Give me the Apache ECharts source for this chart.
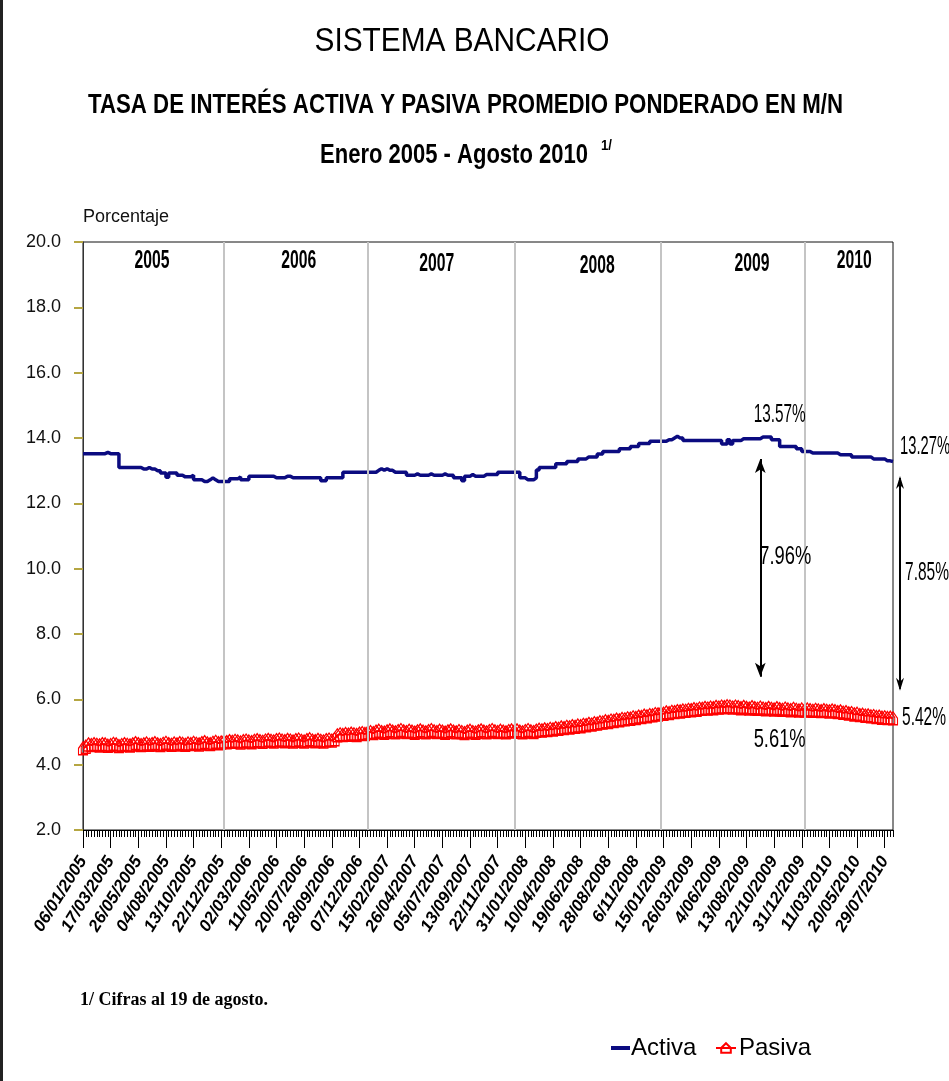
<!DOCTYPE html>
<html>
<head>
<meta charset="utf-8">
<script src="https://cdn.jsdelivr.net/npm/echarts@6/dist/echarts.min.js"></script>
<style>
html,body{margin:0;padding:0;background:#fff;}
#chart{width:949px;height:1081px;}
</style>
</head>
<body>
<div id="chart"></div>
<script>
// ---------- DATA ----------
const startDate = [2005, 0, 6]; // first weekly observation 06/01/2005
const tickLabels = ['06/01/2005','17/03/2005','26/05/2005','04/08/2005','13/10/2005','22/12/2005',
  '02/03/2006','11/05/2006','20/07/2006','28/09/2006','07/12/2006','15/02/2007','26/04/2007',
  '05/07/2007','13/09/2007','22/11/2007','31/01/2008','10/04/2008','19/06/2008','28/08/2008',
  '6/11/2008','15/01/2009','26/03/2009','4/06/2009','13/08/2009','22/10/2009','31/12/2009',
  '11/03/2010','20/05/2010','29/07/2010'];

const activa2005 = [13.52,13.52,13.52,13.52,13.52,13.52,13.52,13.52,13.56,13.52,13.52,13.52,13.52,
  13.10,13.10,13.10,13.10,13.10,13.10,13.10,13.10,
  13.05,13.05,13.10,13.05,13.05,13.00,13.00,12.93,12.93,12.80,12.93,12.93,12.93,12.86,12.86,
  12.81,12.81,12.81,12.86,12.72,12.72,12.72,12.67,12.67,12.72,12.78,12.72,12.67,12.67,12.67,12.67];
const activa2006 = [12.67,12.75,12.75,12.75,12.81,12.72,12.72,12.72,
  12.83,12.83,12.83,12.83,12.83,12.83,12.83,12.83,12.83,12.78,12.78,12.78,12.78,12.83,12.83,
  12.78,12.78,12.78,12.78,12.78,12.78,12.78,12.78,12.78,12.78,12.78,12.69,12.69,
  12.78,12.78,12.78,12.78,12.78,12.78,12.95,12.95,12.95,12.95,12.95,12.95,12.95,12.95,12.95,12.95];
const activa2007 = [12.95,12.95,13.01,13.06,13.01,13.06,13.01,13.01,12.95,12.95,12.95,12.95,12.95,
  12.86,12.86,12.86,12.90,12.86,12.86,12.86,12.86,12.90,12.86,12.86,12.86,12.86,12.90,12.86,12.86,12.86,
  12.78,12.78,12.78,12.69,12.83,12.83,12.88,12.83,12.83,12.83,12.83,
  12.88,12.88,12.88,12.88,12.88,12.95,12.95,12.95,12.95,12.95,12.95];
const activa2008 = [12.95,12.95,12.78,12.78,12.72,12.72,12.72,12.78,13.02,
  13.10,13.10,13.10,13.10,13.10,13.10,13.21,13.21,13.21,13.21,13.28,13.28,13.28,13.28,
  13.36,13.36,13.36,13.42,13.42,13.42,13.42,13.51,13.51,13.59,13.59,13.59,13.59,13.59,13.59,
  13.67,13.67,13.67,13.67,13.74,13.74,13.74,13.83,13.83,13.83,13.83,13.90,13.90,13.90];
const activa2009 = [13.90,13.90,13.90,13.95,13.95,14.00,14.05,14.00,14.00,
  13.92,13.92,13.92,13.92,13.92,13.92,13.92,13.92,13.92,13.92,13.92,13.92,13.92,13.92,
  13.82,13.82,13.95,13.82,13.92,13.92,13.92,13.98,13.98,13.98,13.98,13.98,13.98,13.98,
  14.03,14.03,14.03,14.03,13.95,13.95,13.95,13.74,13.74,13.74,13.74,13.74,13.74,13.67,13.67,13.59];
const activa2010 = [13.59,13.59,13.54,13.54,13.54,13.54,13.54,13.54,13.54,13.54,13.54,13.54,
  13.49,13.49,13.49,13.49,13.49,13.42,13.42,13.42,13.42,13.42,13.42,13.42,
  13.36,13.36,13.36,13.36,13.36,13.30,13.30,13.28,13.27];

const pasiva2005 = [4.50,4.55,4.62,4.60,4.63,4.61,4.59,4.63,4.62,4.58,
  4.60,4.64,4.62,4.57,4.60,4.63,4.61,4.59,4.62,4.66,
  4.63,4.60,4.62,4.65,4.61,4.63,4.66,4.62,4.60,4.64,
  4.67,4.63,4.61,4.65,4.62,4.66,4.64,4.61,4.65,4.63,
  4.67,4.64,4.62,4.66,4.69,4.65,4.63,4.67,4.70,4.66,4.68,4.71];
const pasiva2006 = [4.69,4.72,4.70,4.73,4.71,4.68,4.72,4.74,4.71,4.69,
  4.73,4.75,4.72,4.70,4.74,4.76,4.73,4.71,4.75,4.77,
  4.74,4.72,4.76,4.74,4.71,4.75,4.77,4.73,4.71,4.75,
  4.78,4.74,4.72,4.76,4.73,4.71,4.75,4.77,4.74,4.78,
  4.90,4.93,4.91,4.94,4.92,4.95,4.93,4.91,4.95,4.97,4.94,4.98];
const pasiva2007 = [5.00,4.97,5.01,5.04,5.00,4.98,5.02,5.05,5.01,4.99,
  5.03,5.06,5.02,5.00,5.04,5.01,4.98,5.02,5.05,5.01,
  4.99,5.03,5.06,5.02,5.00,5.04,5.01,4.98,5.02,5.05,
  5.01,4.99,5.03,5.00,4.97,5.01,5.04,5.00,4.98,5.02,
  5.05,5.01,4.99,5.03,5.06,5.02,5.00,5.04,5.01,4.99,5.03,5.05];
const pasiva2008 = [5.02,5.05,5.01,4.99,5.03,5.06,5.02,5.00,5.04,5.07,
  5.05,5.08,5.06,5.10,5.08,5.12,5.10,5.14,5.12,5.16,
  5.14,5.18,5.16,5.20,5.18,5.22,5.21,5.25,5.23,5.27,
  5.26,5.30,5.29,5.33,5.31,5.35,5.34,5.38,5.36,5.40,
  5.39,5.42,5.41,5.45,5.43,5.47,5.46,5.50,5.48,5.52,5.51,5.55];
const pasiva2009 = [5.54,5.57,5.56,5.60,5.58,5.62,5.61,5.64,5.63,5.66,
  5.65,5.68,5.67,5.70,5.68,5.72,5.71,5.74,5.72,5.75,
  5.73,5.77,5.75,5.78,5.76,5.79,5.78,5.75,5.78,5.76,
  5.73,5.77,5.74,5.72,5.76,5.73,5.71,5.75,5.72,5.70,
  5.74,5.71,5.69,5.73,5.70,5.68,5.72,5.69,5.67,5.71,5.68,5.66,5.69];
const pasiva2010 = [5.66,5.69,5.67,5.65,5.68,5.66,5.64,5.67,5.65,5.63,
  5.66,5.64,5.61,5.63,5.59,5.61,5.57,5.58,5.54,5.56,
  5.52,5.53,5.50,5.51,5.48,5.49,5.46,5.47,5.44,5.45,5.43,5.44,5.42];

const yearNames = ['2005','2006','2007','2008','2009','2010'];
const yearLabelIdx = [25, 78, 128, 186, 242, 279];
const yearLabelVal = [19.40, 19.40, 19.33, 19.25, 19.33, 19.40];
const yearLineIdx = [51, 103, 156, 209, 261];

// annotations inside the plot: [text, index, value]
const notes = [['13.57%', 252, 14.71], ['7.96%', 254, 10.36], ['5.61%', 252, 4.76]];
// annotations right of the last observation: [text, value]
const endNotes = [['13.27%', 13.73], ['7.85%', 9.87], ['5.42%', 5.42]];
const arrowMid = [245, 13.36, 6.69];   // index, top value, bottom value
const arrowEnd = [12.84, 6.26];        // top value, bottom value

// ---------- BUILD ----------
const activa = [].concat(activa2005, activa2006, activa2007, activa2008, activa2009, activa2010);
const pasiva = [].concat(pasiva2005, pasiva2006, pasiva2007, pasiva2008, pasiva2009, pasiva2010);
const categories = [];
for (let i = 0; i < activa.length; i++) {
  const d = new Date(startDate[0], startDate[1], startDate[2] + 7 * i);
  const dd = String(d.getDate()).padStart(2, '0'), mm = String(d.getMonth() + 1).padStart(2, '0');
  categories.push(dd + '/' + mm + '/' + d.getFullYear());
}
const last = activa.length - 1;

const SANS = "'Liberation Sans', Arial, sans-serif";
const SERIF = "'Liberation Serif','DejaVu Serif',serif";

const mctx = document.createElement('canvas').getContext('2d');
function fitScale(text, font, target) { mctx.font = font; return target / mctx.measureText(text).width; }

const chart = echarts.init(document.getElementById('chart'), null, {renderer: 'canvas'});

const option = {
  backgroundColor: '#fff',
  animation: false,
  grid: {left: 83, right: 56, top: 242, bottom: 251, show: true, borderColor: '#111', borderWidth: 1},
  xAxis: [{
    type: 'category', data: categories, boundaryGap: false,
    axisLine: {lineStyle: {color: '#000', width: 1}},
    axisTick: {interval: 0, length: 7, lineStyle: {color: '#000'}},
    axisLabel: {interval: 9, rotate: 58, fontFamily: SANS, fontSize: 17, fontWeight: 'bold', fontStyle: 'italic',
      color: '#000', margin: 28,
      formatter: (v, i) => tickLabels[Math.round(i / 10)] || ''},
    splitLine: {show: false}
  }, {
    type: 'category', data: categories, boundaryGap: false, position: 'bottom',
    axisLine: {show: false},
    axisTick: {interval: 9, length: 18, lineStyle: {color: '#000'}},
    axisLabel: {show: false}, splitLine: {show: false}
  }],
  yAxis: {
    type: 'value', min: 2, max: 20, interval: 2,
    name: 'Porcentaje', nameLocation: 'end', nameGap: 16,
    nameTextStyle: {align: 'left', fontFamily: SANS, fontSize: 18, color: '#111'},
    axisLine: {show: true, lineStyle: {color: '#333'}},
    axisTick: {show: true, length: 9, lineStyle: {color: '#b5a642', width: 2}},
    axisLabel: {formatter: v => v.toFixed(1), fontFamily: SANS, fontSize: 18, color: '#111', margin: 22},
    splitLine: {show: false}
  },
  legend: [{
    left: 606, top: 1031, itemWidth: 19, itemHeight: 4, icon: 'rect',
    textStyle: {fontFamily: SANS, fontSize: 24, color: '#000', padding: [0, 0, 0, -4]},
    data: ['Activa']
  }, {
    left: 710, top: 1031, itemWidth: 20, itemHeight: 12,
    textStyle: {fontFamily: SANS, fontSize: 24, color: '#000', padding: [0, 0, 0, -2]},
    data: ['Pasiva']
  }],
  series: [{
    name: 'Activa', type: 'line', data: activa, step: 'end', showSymbol: false, symbol: 'none',
    lineStyle: {color: '#0b0b80', width: 3.5}, itemStyle: {color: '#0b0b80'}, z: 3,
    markLine: {
      silent: true, symbol: ['arrow', 'arrow'], symbolSize: [8, 14],
      lineStyle: {color: '#000', width: 2, type: 'solid'}, label: {show: false},
      data: [[{coord: [arrowMid[0], arrowMid[1]]}, {coord: [arrowMid[0], arrowMid[2]]}]]
    }
  }, {
    name: 'Pasiva', type: 'line', data: pasiva, showSymbol: true, showAllSymbol: true,
    symbol: 'path://M5,0 L10,6 L10,12 L0,12 L0,6 Z', symbolSize: [9, 13],
    lineStyle: {color: '#ff0000', width: 2},
    itemStyle: {color: 'rgba(255,255,255,0)', borderColor: '#ff0000', borderWidth: 1.3}, z: 2,
    markLine: {
      silent: true, symbol: 'none', label: {show: false},
      lineStyle: {color: '#c4c4c4', width: 2, type: 'solid'},
      data: yearLineIdx.map(i => ({xAxis: i}))
    }
  }],
  graphic: [
    {type: 'rect', id: 'leftframe', shape: {x: 0, y: 0, width: 3, height: 1081}, style: {fill: '#222'}}
  ]
};
chart.setOption(option);

// ---------- TEXT & ARROWS placed from data coordinates ----------
const px = (i, v) => chart.convertToPixel({gridIndex: 0}, [i, v]);
const g = [];
function addText(id, text, x, y, font, target, align) {
  g.push({type: 'text', id: id, x: x, y: y, scaleX: fitScale(text, font, target), z: 50,
    style: {text: text, font: font, fill: '#000', align: align || 'center', verticalAlign: 'middle'}});
}
// titles
addText('t1', 'SISTEMA BANCARIO', 462, 42, '33px ' + SANS, 295);
addText('t2', 'TASA DE INTERÉS ACTIVA Y PASIVA PROMEDIO PONDERADO EN M/N', 465.5, 106, 'bold 27px ' + SANS, 755);
addText('t3', 'Enero 2005 - Agosto 2010', 454, 156, 'bold 27px ' + SANS, 268);
addText('t3s', '1/', 601, 146, 'bold 15px ' + SANS, 11, 'left');
addText('foot', '1/ Cifras al 19 de agosto.', 80, 1000, 'bold 18px ' + SERIF, 188, 'left');
// year labels
yearNames.forEach((t, k) => {
  const p = px(yearLabelIdx[k], yearLabelVal[k]);
  addText('y' + k, t, p[0], p[1], 'bold 25px ' + SANS, 35);
});
// value notes
notes.forEach((n, k) => {
  const p = px(n[1], n[2]);
  addText('n' + k, n[0], p[0], p[1], '26px ' + SANS, 52);
});
const endOffsets = [7, 12, 9];
endNotes.forEach((n, k) => {
  const p = px(last, n[1]);
  addText('e' + k, n[0], p[0] + endOffsets[k], p[1], '26px ' + SANS, n[0].length > 5 ? 50 : 44, 'left');
});
// double arrow right of the plot
const pTop = px(last, arrowEnd[0]);
const pBot = px(last, arrowEnd[1]);
const ax = pTop[0] + 7;
g.push(
  {type: 'line', id: 'arrEndLine', shape: {x1: ax, y1: pTop[1] + 2, x2: ax, y2: pBot[1] - 2}, style: {stroke: '#000', lineWidth: 2}},
  {type: 'polygon', id: 'arrEndTop', shape: {points: [[ax, pTop[1]], [ax - 4, pTop[1] + 13], [ax, pTop[1] + 9], [ax + 4, pTop[1] + 13]]}, style: {fill: '#000'}},
  {type: 'polygon', id: 'arrEndBot', shape: {points: [[ax, pBot[1]], [ax - 4, pBot[1] - 13], [ax, pBot[1] - 9], [ax + 4, pBot[1] - 13]]}, style: {fill: '#000'}}
);
chart.setOption({graphic: g});
</script>
</body>
</html>
